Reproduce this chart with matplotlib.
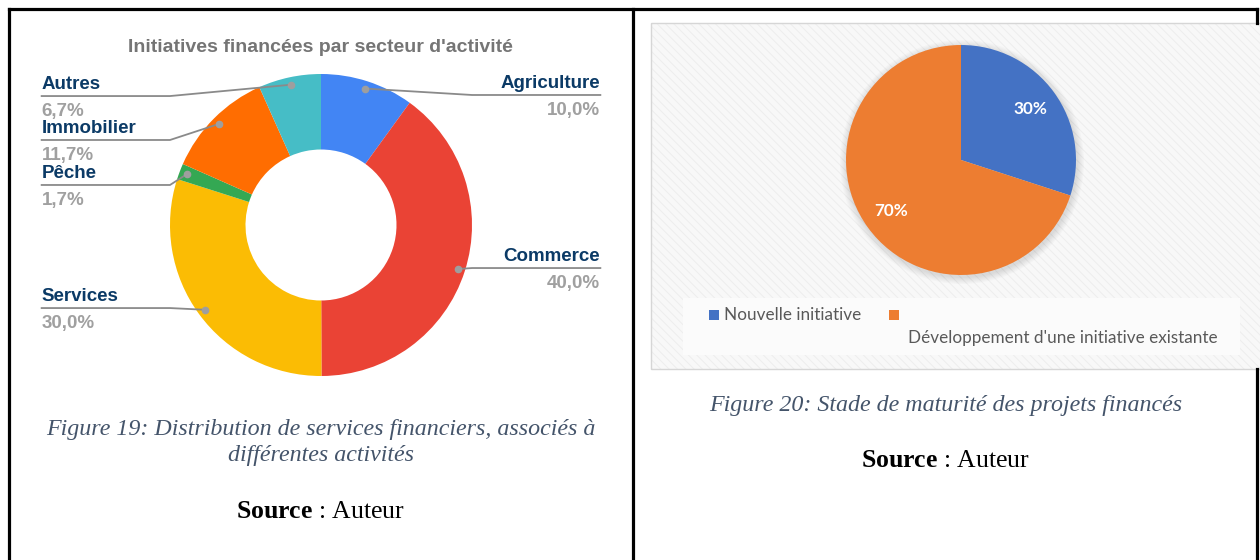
import numpy as np
import matplotlib
matplotlib.use("Agg")
import matplotlib.pyplot as plt
from matplotlib.patches import Rectangle, Circle

# --- donnees ---
secteurs = ["Agriculture", "Commerce", "Services", "Pêche", "Immobilier", "Autres"]
parts = [10.0, 40.0, 30.0, 1.7, 11.7, 6.7]
etiquettes_pct = ["10,0%", "40,0%", "30,0%", "1,7%", "11,7%", "6,7%"]
couleurs_secteurs = ["#4285F4", "#EA4335", "#FBBC04", "#34A853", "#FF6D01", "#46BDC6"]

stades = ["Nouvelle initiative", "Développement d'une initiative existante"]
stades_parts = [30, 70]
couleurs_stades = ["#4472C4", "#ED7D31"]

titre_gauche = "Initiatives financées par secteur d'activité"

plt.rcParams["mathtext.fontset"] = "custom"
plt.rcParams["mathtext.rm"] = "Liberation Serif"
plt.rcParams["mathtext.bf"] = "Liberation Serif:bold"
plt.rcParams["hatch.linewidth"] = 0.6

W, H = 1260, 560
fig = plt.figure(figsize=(W / 100, H / 100), dpi=100)
fig.patch.set_facecolor("white")

# axe de fond en pixels (y vers le bas)
fond = fig.add_axes([0, 0, 1, 1])
fond.set_xlim(0, W)
fond.set_ylim(H, 0)
fond.axis("off")


def axe_px(x0, y0, x1, y1):
    return fig.add_axes([x0 / W, 1 - y1 / H, (x1 - x0) / W, (y1 - y0) / H])


# --- panneau droit (fond hachure) ---
fond.add_patch(Rectangle((651, 23), 612, 346, facecolor="#F8F8F8",
                         edgecolor="#ECECEC", hatch="\\\\\\\\", linewidth=0, zorder=1))
fond.add_patch(Rectangle((651, 23), 612, 346, facecolor="none",
                         edgecolor="#D6D6D6", linewidth=1.0, zorder=2))
fond.add_patch(Rectangle((683, 298), 557, 57, facecolor="#FBFBFB",
                         edgecolor="none", zorder=2))

# --- bordures du tableau ---
noir = dict(color="black", lw=2.3, solid_capstyle="projecting", zorder=3)
fond.plot([8.5, 1256.5], [8.5, 8.5], **noir)
fond.plot([8.5, 8.5], [8.5, 570], **noir)
fond.plot([633, 633], [8.5, 570], **noir)
fond.plot([1256.5, 1256.5], [8.5, 23], **noir)
fond.plot([1256.5, 1256.5], [369, 570], **noir)

# --- graphique gauche : anneau ---
cx, cy, r = 321, 225, 151
ax1 = axe_px(cx - r, cy - r, cx + r, cy + r)
wedges, _ = ax1.pie(parts, colors=couleurs_secteurs, startangle=90, counterclock=False,
                    radius=1, wedgeprops=dict(width=0.5, linewidth=0))
ax1.set_xlim(-1, 1)
ax1.set_ylim(-1, 1)
ax1.set_aspect("equal")
ax1.axis("off")

fig.text(320 / W, 1 - 48 / H, titre_gauche, ha="center", va="center",
         fontsize=14, fontweight="bold", color="#757575", family="Liberation Sans")

# lignes des etiquettes (positions en unites du rayon)
rangees = {"Agriculture": 0.861, "Commerce": -0.285, "Services": -0.55,
           "Pêche": 0.265, "Immobilier": 0.563, "Autres": 0.854}
x_bord = 1.85
for w, nom, pct in zip(wedges, secteurs, etiquettes_pct):
    a = np.deg2rad((w.theta1 + w.theta2) / 2)
    px, py = 0.95 * np.cos(a), 0.95 * np.sin(a)
    s = 1 if px > 0 else -1
    ly = rangees[nom]
    xc = s * max(abs(px), 1.0)
    ax1.plot([px, xc, s * x_bord], [py, ly, ly], color="#8A8A8A", lw=1.3,
             clip_on=False, zorder=4)
    ax1.plot(px, py, "o", ms=4.5, color="#9E9E9E", clip_on=False, zorder=5)
    ha = "right" if s > 0 else "left"
    ax1.text(s * x_bord, ly + 0.02, nom, ha=ha, va="bottom", fontsize=13.5,
             fontweight="bold", color="#0B3A66", family="Liberation Sans", clip_on=False)
    ax1.text(s * x_bord, ly - 0.045, pct, ha=ha, va="top", fontsize=13.5,
             fontweight="bold", color="#A0A0A0", family="Liberation Sans", clip_on=False)

# --- graphique droit : camembert ---
cx2, cy2, r2 = 961, 160, 115
for k in range(6):
    fond.add_patch(Circle((cx2 + 1, cy2 + 2), r2 + 1 + k * 1.2, facecolor="#000000",
                          alpha=0.02, edgecolor="none", zorder=2))
ax2 = axe_px(cx2 - r2, cy2 - r2, cx2 + r2, cy2 + r2)
ax2.pie(stades_parts, colors=couleurs_stades, startangle=90, counterclock=False,
        radius=1, autopct="%d%%", pctdistance=0.75,
        wedgeprops=dict(linewidth=0),
        textprops=dict(color="white", fontweight="bold", fontsize=12.3, family="Lato"))
ax2.set_xlim(-1, 1)
ax2.set_ylim(-1, 1)
ax2.set_aspect("equal")
ax2.axis("off")

# legende manuelle
fond.add_patch(Rectangle((709, 310), 10, 10, facecolor=couleurs_stades[0], edgecolor="none", zorder=3))
fond.add_patch(Rectangle((889, 310), 10, 10, facecolor=couleurs_stades[1], edgecolor="none", zorder=3))
fond.text(724, 315, stades[0], ha="left", va="center", fontsize=12.3,
          color="#595959", family="Lato", zorder=4)
fond.text(1218, 338, stades[1], ha="right", va="center", fontsize=12.3,
          color="#595959", family="Lato", zorder=4)

# --- legendes des figures ---
cap = dict(ha="center", va="center", fontsize=17.3, style="italic",
           color="#44546A", family="Liberation Serif")
fond.text(321, 430, "Figure 19: Distribution de services financiers, associés à", **cap)
fond.text(321, 456, "différentes activités", **cap)
fond.text(946, 405, "Figure 20: Stade de maturité des projets financés", **cap)

src = dict(ha="center", va="center", fontsize=18.5, color="black",
           family="Liberation Serif")
fond.text(321, 512, r"$\mathbf{Source}$ : Auteur", **src)
fond.text(946, 461, r"$\mathbf{Source}$ : Auteur", **src)

fig.savefig("out.png", dpi=100, facecolor="white")
